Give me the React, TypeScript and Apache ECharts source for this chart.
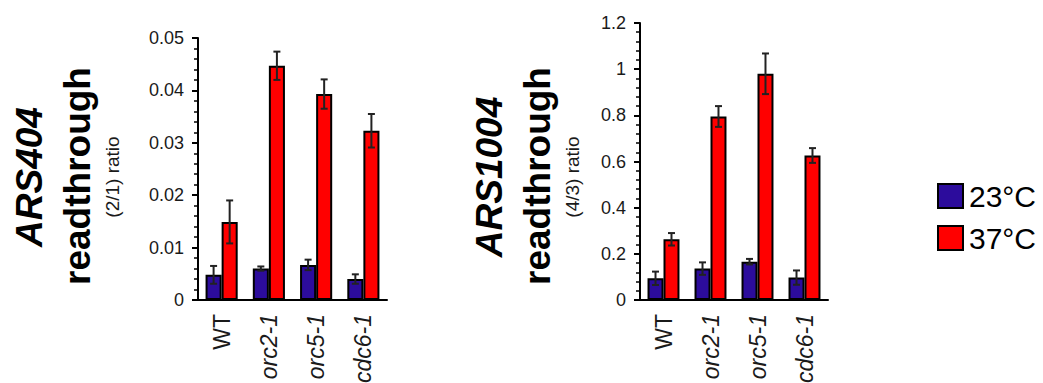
import React, { useEffect, useRef } from "react";
import * as echarts from "echarts";

const categories = ["WT", "orc2-1", "orc5-1", "cdc6-1"];
const seriesNames = ["23°C", "37°C"];

// ARS404 (2/1) ratio
const ars404Cold = [0.0048, 0.006, 0.0067, 0.004];
const ars404ColdErr = [0.0017, 0.0004, 0.001, 0.0009];
const ars404Hot = [0.0149, 0.0447, 0.0393, 0.0323];
const ars404HotErr = [0.0041, 0.0027, 0.0028, 0.0032];

// ARS1004 (4/3) ratio
const ars1004Cold = [0.094, 0.136, 0.166, 0.097];
const ars1004ColdErr = [0.029, 0.027, 0.012, 0.031];
const ars1004Hot = [0.263, 0.795, 0.98, 0.626];
const ars1004HotErr = [0.027, 0.045, 0.088, 0.032];

const COLD = "#2c0c9c";
const HOT = "#ff0000";
const TXT = "#1a1a1a";
const CAT_GAP = 0.32;
const FF = "Liberation Sans, Arial, sans-serif";

function errSeries(name: string, axisIdx: number, vals: number[], errs: number[], side: number) {
  return {
    type: "custom",
    name: name + "-err",
    xAxisIndex: axisIdx,
    yAxisIndex: axisIdx,
    z: 10,
    silent: true,
    data: vals.map((v, i) => [i, v, errs[i]]),
    renderItem: (params: any, api: any) => {
      const idx = api.value(0);
      const v = api.value(1);
      const e = api.value(2);
      const band = api.size([1, 0])[0];
      const barW = (band * (1 - CAT_GAP)) / 2;
      const off = (side * barW) / 2;
      const top = api.coord([idx, v + e]);
      const bot = api.coord([idx, v - e]);
      const x = top[0] + off;
      const cap = 3.5;
      const style = { stroke: "#222", lineWidth: 2, fill: null };
      return {
        type: "group",
        children: [
          { type: "line", shape: { x1: x, y1: top[1], x2: x, y2: bot[1] }, style },
          { type: "line", shape: { x1: x - cap, y1: top[1], x2: x + cap, y2: top[1] }, style },
          { type: "line", shape: { x1: x - cap, y1: bot[1], x2: x + cap, y2: bot[1] }, style },
        ],
      };
    },
  };
}

function barSeries(name: string, axisIdx: number, vals: number[], color: string) {
  return {
    type: "bar",
    name,
    xAxisIndex: axisIdx,
    yAxisIndex: axisIdx,
    data: vals,
    barGap: "0%",
    barCategoryGap: CAT_GAP * 100 + "%",
    itemStyle: { color, borderColor: "#000", borderWidth: 2 },
  };
}

function yAxis(gridIndex: number, max: number, interval: number) {
  return {
    type: "value",
    gridIndex,
    min: 0,
    max,
    interval,
    splitLine: { show: false },
    axisLine: { show: true, lineStyle: { color: "#000", width: 2 } },
    axisTick: { show: true, length: 6, lineStyle: { color: "#000", width: 2 } },
    minorTick: { show: true, splitNumber: 5, length: 4, lineStyle: { color: "#000", width: 1.5 } },
    axisLabel: {
      margin: 14,
      color: TXT,
      fontSize: 18,
      fontFamily: FF,
      formatter: (v: number) => String(parseFloat(v.toFixed(4))),
    },
  };
}

function xAxis(gridIndex: number) {
  return {
    type: "category",
    gridIndex,
    data: categories,
    axisLine: { show: true, lineStyle: { color: "#000", width: 2 } },
    axisTick: { show: false },
    axisLabel: {
      rotate: 90,
      margin: 14,
      interval: 0,
      color: TXT,
      fontSize: 23,
      fontFamily: FF,
      formatter: (v: string) => (v === "WT" ? `{n|${v}}` : `{i|${v}}`),
      rich: {
        n: { fontSize: 23, color: TXT, fontFamily: FF },
        i: { fontSize: 23, color: TXT, fontStyle: "italic", fontFamily: FF },
      },
    },
  };
}

function titleTexts(dx: number, gene: string, ratio: string) {
  return [
    {
      type: "text",
      x: 29 + dx,
      y: 177,
      rotation: Math.PI / 2,
      style: {
        text: gene,
        font: `italic bold 37px ${FF}`,
        fill: "#000",
        textAlign: "center",
        textVerticalAlign: "middle",
      },
    },
    {
      type: "text",
      x: 77 + dx,
      y: 176,
      rotation: Math.PI / 2,
      style: {
        text: "readthrough",
        font: `bold 37px ${FF}`,
        fill: "#000",
        textAlign: "center",
        textVerticalAlign: "middle",
      },
    },
    {
      type: "text",
      x: 112 + dx,
      y: 177,
      rotation: Math.PI / 2,
      style: {
        text: ratio,
        font: `19px ${FF}`,
        fill: TXT,
        textAlign: "center",
        textVerticalAlign: "middle",
      },
    },
  ];
}

export default function App() {
  const ref = useRef<HTMLDivElement>(null);
  useEffect(() => {
    if (!ref.current) return;
    const chart = echarts.init(ref.current, null, { renderer: "svg" });
    chart.setOption({
      animation: false,
      backgroundColor: "#fff",
      textStyle: { fontFamily: FF },
      grid: [
        { left: 198, top: 38, width: 189, height: 262, containLabel: false, outerBoundsMode: "none" },
        { left: 640, top: 23, width: 188, height: 277, containLabel: false, outerBoundsMode: "none" },
      ],
      xAxis: [xAxis(0), xAxis(1)],
      yAxis: [yAxis(0, 0.05, 0.01), yAxis(1, 1.2, 0.2)],
      legend: {
        orient: "vertical",
        left: 932,
        top: 176,
        itemWidth: 25,
        itemHeight: 24,
        itemGap: 12,
        data: seriesNames,
        icon: "rect",
        selectedMode: false,
        textStyle: { fontSize: 30, color: "#000", padding: [0, 0, 0, 1], fontFamily: FF },
      },
      graphic: [...titleTexts(0, "ARS404", "(2/1) ratio"), ...titleTexts(460, "ARS1004", "(4/3) ratio")],
      series: [
        barSeries(seriesNames[0], 0, ars404Cold, COLD),
        barSeries(seriesNames[1], 0, ars404Hot, HOT),
        barSeries(seriesNames[0], 1, ars1004Cold, COLD),
        barSeries(seriesNames[1], 1, ars1004Hot, HOT),
        errSeries("a", 0, ars404Cold, ars404ColdErr, -1),
        errSeries("b", 0, ars404Hot, ars404HotErr, 1),
        errSeries("c", 1, ars1004Cold, ars1004ColdErr, -1),
        errSeries("d", 1, ars1004Hot, ars1004HotErr, 1),
      ],
    });
    return () => chart.dispose();
  }, []);
  return (
    <div
      ref={ref}
      style={{ position: "fixed", left: 0, top: 0, width: 1043, height: 383, background: "#fff" }}
    />
  );
}
